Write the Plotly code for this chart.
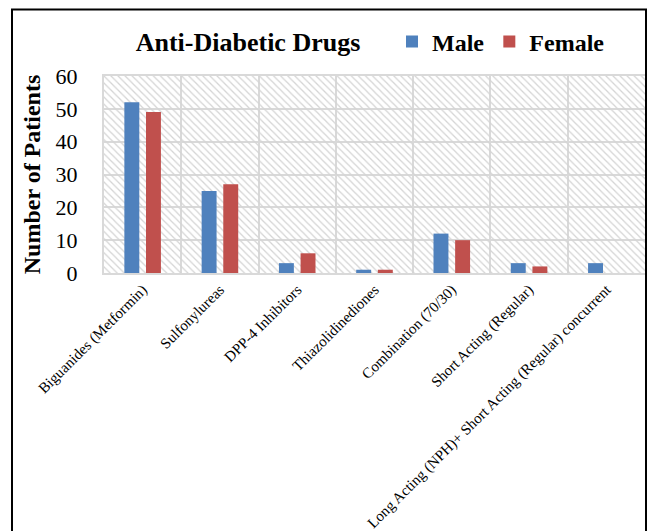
import plotly.graph_objects as go

# Anti-diabetic drug usage by sex
drugs = [
    "Biguanides (Metformin)",
    "Sulfonylureas",
    "DPP-4 Inhibitors",
    "Thiazolidinediones",
    "Combination (70/30)",
    "Short Acting (Regular)",
    "Long Acting (NPH)+ Short Acting (Regular) concurrent",
]
male = [52, 25, 3, 1, 12, 3, 3]
female = [49, 27, 6, 1, 10, 2, 0]
y_ticks = [0, 10, 20, 30, 40, 50, 60]

MALE_COLOR = "#4F81BD"
FEMALE_COLOR = "#C0504D"
GRID = "#D9D9D9"
SERIF = "Liberation Serif, Times New Roman, serif"

W, H = 649, 531
L, R, T, B = 104, 4, 76, 258

fig = go.Figure()

# Hatched plot-area background (single full-width bar on a hidden linear axis)
fig.add_trace(go.Bar(
    x=[0.5], y=[y_ticks[-1]], width=[1.0],
    xaxis="x", yaxis="y",
    marker=dict(
        color="rgba(0,0,0,0)",
        line=dict(width=0),
        pattern=dict(shape="\\", fgcolor="#D4D4D4", bgcolor="rgba(0,0,0,0)",
                     size=5, solidity=0.25, fillmode="replace"),
    ),
    showlegend=False, hoverinfo="skip",
))

fig.add_trace(go.Bar(
    x=drugs, y=male, name="<b>Male</b>", xaxis="x2", yaxis="y",
    marker=dict(color=MALE_COLOR, line=dict(width=0)),
))
fig.add_trace(go.Bar(
    x=drugs, y=female, name="<b>Female</b>", xaxis="x2", yaxis="y",
    marker=dict(color=FEMALE_COLOR, line=dict(width=0)),
))

fig.update_layout(
    width=W, height=H,
    margin=dict(l=L, r=R, t=T, b=B, autoexpand=False),
    paper_bgcolor="white",
    plot_bgcolor="white",
    barmode="group",
    bargap=0.44,
    bargroupgap=0.31,
    font=dict(family=SERIF, color="black"),
    title=dict(
        text="<b>Anti-Diabetic Drugs</b>",
        font=dict(family=SERIF, size=26, color="black"),
        xref="container", x=248 / W, xanchor="center",
        yref="container", y=1 - 42 / H, yanchor="middle",
    ),
    legend=dict(
        orientation="h",
        xref="paper", x=(392 - L) / (W - L - R), xanchor="left",
        yref="paper", y=1 + (T - 42) / (H - T - B), yanchor="middle",
        font=dict(family=SERIF, size=24, color="black"),
        bgcolor="rgba(0,0,0,0)",
        traceorder="normal",
    ),
    xaxis=dict(
        range=[0, 1], visible=False, showgrid=False, fixedrange=True,
    ),
    xaxis2=dict(
        overlaying="x", side="bottom", type="category",
        categoryorder="array", categoryarray=drugs,
        tickson="boundaries",
        showgrid=True, gridcolor=GRID, gridwidth=2,
        showline=True, linecolor=GRID, linewidth=2, mirror=True,
        ticks="", tickangle=-45,
        tickfont=dict(family=SERIF, size=15, color="black"),
        automargin=False,
    ),
    yaxis=dict(
        range=[0, 60], tickvals=y_ticks,
        showgrid=True, gridcolor=GRID, gridwidth=2,
        zeroline=False,
        showline=True, linecolor=GRID, linewidth=2, mirror=True,
        ticks="", ticklabelstandoff=20,
        tickfont=dict(family=SERIF, size=22, color="black"),
        title=dict(text="<b>Number of Patients</b>",
                   font=dict(family=SERIF, size=24, color="black"),
                   standoff=8),
        automargin=False,
    ),
)

# Outer chart frame
pw, ph = W - L - R, H - T - B
fig.add_shape(
    type="rect", xref="paper", yref="paper",
    x0=(12 - L) / pw, x1=(646 - L) / pw,
    y0=-(B + 20) / ph, y1=1 + (T - 9.5) / ph,
    line=dict(color="black", width=2), fillcolor="rgba(0,0,0,0)",
    layer="above",
)

fig.write_html("out.html")
